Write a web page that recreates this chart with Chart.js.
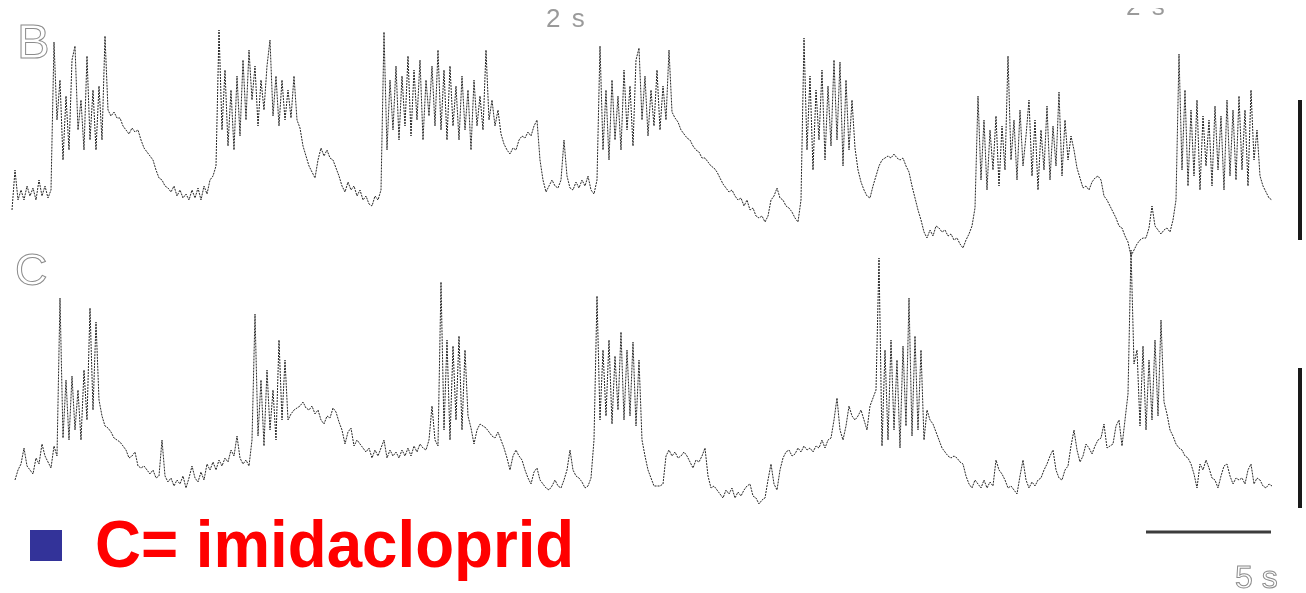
<!DOCTYPE html>
<html>
<head>
<meta charset="utf-8">
<script src="https://cdn.jsdelivr.net/npm/chart.js@4.4.1/dist/chart.umd.min.js"></script>
<style>
  html, body { margin: 0; padding: 0; background: #ffffff; }
  #wrap { position: relative; width: 1306px; height: 593px; overflow: hidden; background: #ffffff; }
  #trace { position: absolute; left: 0; top: 0; }
  .lbl { position: absolute; font-family: "Liberation Sans", Arial, sans-serif; line-height: 1; white-space: pre; }
  .hollow { color: #ffffff; -webkit-text-stroke: 1px #8c8c8c; }
  .faint { color: #9a9a9a; }
  #clipTop { position: absolute; left: 1124px; top: 8px; width: 60px; height: 8px; overflow: hidden; }
  #marker { position: absolute; left: 30px; top: 530px; width: 32px; height: 31px; background: #333399; }
  #caption { position: absolute; left: 95px; top: 510px; font-family: "Liberation Sans", Arial, sans-serif;
             font-weight: bold; font-size: 67px; line-height: 1; color: #ff0000; white-space: pre;
             transform: scaleX(0.95); transform-origin: left top; }
</style>
</head>
<body>
<div id="wrap">
  <canvas id="trace" width="1306" height="593"></canvas>
  <div class="lbl hollow" style="left:17px; top:17px; font-size:49px;">B</div>
  <div class="lbl hollow" style="left:15px; top:247px; font-size:45px;">C</div>
  <div class="lbl faint" style="left:546px; top:5px; font-size:26px; letter-spacing:2px;">2 s</div>
  <div id="clipTop"><div class="lbl faint" style="left:2px; top:-15px; font-size:26px; letter-spacing:2px;">2 s</div></div>
  <div class="lbl hollow" style="left:1235px; top:561px; font-size:32px;">5 s</div>
  <div id="marker"></div>
  <div id="caption">C= imidacloprid</div>
</div>
<script>
// Sampling of both recordings (seconds)
const sampleStep = 0.12;
const traceBStart = 0.48;
const traceCStart = 0.60;

// Recording B (arbitrary units), one value per sample
const traceB = [
  25,45,30,35,30,37,32,36,30,40,32,37,31,35,
  109,70,90,50,82,55,100,107,65,80,55,102,60,85,55,87,60,112,75,
  72,74,71,71,67,65,63,66,64,65,60,56,54,52,50,45,41,40,37,36,34,37,32,35,31,33,30,35,31,36,30,37,33,40,42,47,
  115,65,95,57,85,55,92,62,100,70,105,80,97,67,90,75,97,110,72,92,67,90,70,85,71,92,70,
  66,57,52,47,44,41,50,56,52,55,51,50,46,42,37,34,39,35,37,32,35,30,32,28,27,32,30,35,
  114,55,90,65,97,60,92,67,102,62,95,70,100,60,90,72,97,67,105,65,95,60,97,67,87,60,92,65,85,55,90,67,82,65,105,70,80,67,75,
  63,58,55,53,56,55,60,62,61,64,62,67,70,50,40,34,37,40,37,36,40,60,42,36,35,39,36,40,37,42,35,33,40,
  107,55,85,50,90,60,82,55,95,65,87,57,100,106,70,92,62,85,67,95,65,87,70,105,
  74,71,69,65,63,61,60,57,55,54,51,51,49,47,46,44,41,38,36,34,35,32,30,31,27,30,25,26,22,21,22,19,22,30,32,36,31,30,27,26,24,21,19,
  30,111,55,92,45,85,60,95,50,87,57,100,60,99,47,90,55,80,
  56,45,39,35,32,31,37,42,47,50,51,52,51,53,51,50,51,47,44,37,31,25,20,14,11,15,12,17,16,14,15,12,13,10,11,8,6,10,13,17,26,
  82,40,70,35,65,45,72,37,67,45,102,50,70,40,75,47,62,80,42,70,35,65,45,77,40,67,47,84,42,70,50,62,55,
  46,41,36,37,35,39,41,42,40,32,30,27,24,21,17,16,12,9,2,5,8,10,11,11,16,27,17,15,13,15,16,14,20,30,
  103,45,85,37,75,42,80,35,72,47,70,37,77,45,72,35,80,42,75,40,82,45,75,37,85,50,65,
  42,37,34,31,30
];

// Recording C (arbitrary units), one value per sample
const traceC = [
  15,20,23,31,22,20,18,26,23,33,27,24,21,32,27,
  106,36,65,35,67,40,60,35,70,45,101,50,94,
  55,47,42,41,39,36,35,34,32,30,26,27,29,22,21,22,20,18,20,16,17,35,17,14,16,12,15,13,17,11,16,22,16,14,19,15,23,20,24,20,25,22,26,24,30,27,37,26,23,25,22,35,
  98,37,65,32,70,40,60,35,85,45,75,
  45,48,50,51,52,54,51,50,52,48,50,45,43,47,46,51,49,44,40,33,39,41,32,35,33,31,29,31,26,30,27,31,35,26,30,27,29,26,30,27,31,27,32,29,33,31,30,35,52,35,32,
  114,40,85,35,82,45,87,40,80,47,
  41,33,40,43,42,41,39,37,36,39,35,31,26,20,27,30,27,25,20,16,13,19,21,15,13,11,10,12,15,12,11,15,20,30,20,17,16,14,11,12,16,35,
  107,45,80,47,85,43,77,50,89,45,80,47,84,42,75,35,
  27,20,16,12,12,12,13,27,30,27,29,26,27,29,27,24,21,25,24,27,31,17,11,12,10,8,6,10,8,11,6,9,7,10,12,13,7,6,3,5,6,15,23,13,10,20,26,29,30,27,28,31,29,32,30,31,29,32,31,35,31,35,36,45,56,40,35,42,52,47,45,47,50,45,40,52,56,60,
  126,32,80,35,85,40,75,31,82,42,106,37,87,40,80,35,50,
  45,43,39,35,31,29,27,26,27,26,24,23,17,13,11,15,13,11,15,11,14,12,25,20,18,15,11,12,10,8,17,25,15,11,14,12,15,16,20,23,27,30,20,16,15,20,22,32,40,30,24,27,33,31,28,32,35,36,43,31,32,33,42,45,32,45,58,
  130,73,80,42,82,40,75,45,85,47,95,
  54,48,40,37,33,31,30,27,26,23,18,11,23,20,25,21,16,15,11,17,22,23,17,13,16,15,16,13,20,23,13,16,15,12,11,13,12
];

// Calibration bars: 5 s time bar, 70 a.u. amplitude bars
const timeBar = [45.84, 50.84];
const timeBarLevel = -11;
const ampBarTime = 52.0;
const ampBarB = [10, 80];
const ampBarC = [1, 71];

const toPoints = (values, t0) => values.map((v, i) => ({ x: +(t0 + i * sampleStep).toFixed(2), y: v }));

// thin, slightly broken pen stroke for the recordings
const traceStyle = { borderColor: '#262626', borderWidth: 1, borderDash: [2, 1], pointRadius: 0, tension: 0, fill: false };
const barStyle = { borderColor: '#1a1a1a', pointRadius: 0, tension: 0, fill: false };

new Chart(document.getElementById('trace'), {
  type: 'line',
  data: {
    datasets: [
      Object.assign({ label: 'B', data: toPoints(traceB, traceBStart), yAxisID: 'yB' }, traceStyle),
      Object.assign({ label: 'C', data: toPoints(traceC, traceCStart), yAxisID: 'yC' }, traceStyle),
      Object.assign({ label: '5 s', data: timeBar.map(t => ({ x: t, y: timeBarLevel })), yAxisID: 'yC', borderWidth: 3 }, barStyle, { borderColor: '#3c3c3c' }),
      Object.assign({ label: 'amp B', data: ampBarB.map(v => ({ x: ampBarTime, y: v })), yAxisID: 'yB', borderWidth: 4 }, barStyle),
      Object.assign({ label: 'amp C', data: ampBarC.map(v => ({ x: ampBarTime, y: v })), yAxisID: 'yC', borderWidth: 4 }, barStyle)
    ]
  },
  options: {
    responsive: false,
    animation: false,
    events: [],
    layout: { padding: 0 },
    plugins: { legend: { display: false }, tooltip: { enabled: false } },
    scales: {
      x: { type: 'linear', min: 0, max: 52.24, display: false },
      yB: { type: 'linear', min: -166.5, max: 130, display: false },
      yC: { type: 'linear', min: -41.5, max: 255, display: false }
    }
  }
});
</script>
</body>
</html>
